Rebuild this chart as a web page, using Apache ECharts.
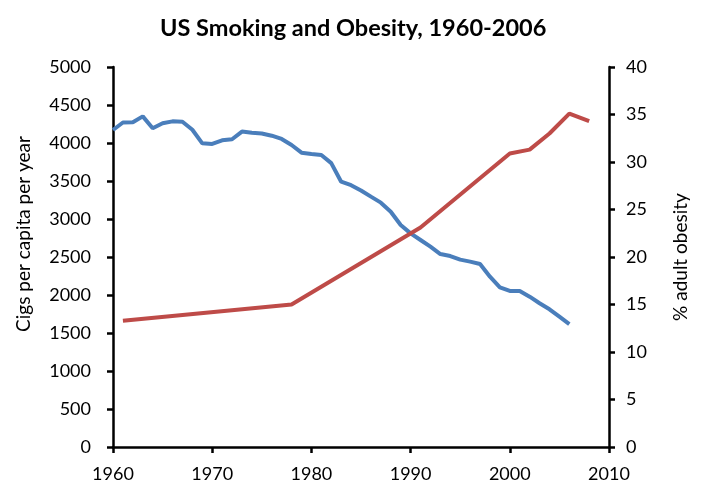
<!DOCTYPE html>
<html>
<head>
<meta charset="utf-8">
<script src="https://cdn.jsdelivr.net/npm/echarts@6/dist/echarts.min.js"></script>
<style>html,body{margin:0;padding:0;background:#fff}#c{width:704px;height:500px}</style>
</head>
<body>
<div id="c"></div>
<script>
const titleText = 'US Smoking and Obesity, 1960-2006';
const cigYears = [1960,1961,1962,1963,1964,1965,1966,1967,1968,1969,1970,1971,1972,1973,1974,1975,1976,1977,1978,1979,1980,1981,1982,1983,1984,1985,1986,1987,1988,1989,1990,1991,1992,1993,1994,1995,1996,1997,1998,1999,2000,2001,2002,2003,2004,2005,2006];
const cigValues = [4171,4270,4272,4350,4195,4259,4285,4280,4175,3996,3987,4035,4049,4150,4136,4125,4096,4053,3974,3873,3855,3842,3735,3491,3445,3375,3294,3215,3096,2921,2811,2724,2636,2539,2513,2465,2439,2408,2241,2101,2053,2053,1978,1891,1812,1715,1618];
const obYears = [1961,1978,1991,2000,2002,2004,2006,2008];
const obValues = [13.3,15.0,23.1,30.9,31.3,33.0,35.1,34.3];
const xTicks = {min:1960, max:2010, interval:10};
const leftTicks = {min:0, max:5000, interval:500};
const rightTicks = {min:0, max:40, interval:5};
const leftName = 'Cigs per capita per year';
const rightName = '% adult obesity';

const FONT = 'Lato';
const chart = echarts.init(document.getElementById('c'), null, {renderer:'canvas'});
const axisLine = {show:true, onZero:false, lineStyle:{color:'#000', width:2.5}};
const axisTick = {show:true, inside:false, length:6, lineStyle:{color:'#000', width:2.5}};
const plain = v => String(v);
chart.setOption({
  animation:false,
  backgroundColor:'#fff',
  title:{text:titleText, left:155, top:11, textStyle:{fontFamily:FONT, fontWeight:'bold', fontSize:23.5, color:'#000'}},
  grid:{left:113, right:95, top:67, bottom:53, containLabel:false},
  xAxis:{type:'value', min:xTicks.min, max:xTicks.max, interval:xTicks.interval,
    axisLine:axisLine, axisTick:axisTick, splitLine:{show:false},
    axisLabel:{fontFamily:FONT, fontSize:18, color:'#000', margin:18, formatter:plain}},
  yAxis:[
    {type:'value', position:'left', min:leftTicks.min, max:leftTicks.max, interval:leftTicks.interval,
     axisLine:axisLine, axisTick:axisTick, splitLine:{show:false},
     axisLabel:{fontFamily:FONT, fontSize:18, color:'#000', margin:22, formatter:plain},
     name:leftName, nameLocation:'middle', nameRotate:90, nameGap:80,
     nameTextStyle:{fontFamily:FONT, fontSize:19, color:'#000', padding:[0,0,0,46]}},
    {type:'value', position:'right', min:rightTicks.min, max:rightTicks.max, interval:rightTicks.interval,
     axisLine:axisLine, axisTick:axisTick, splitLine:{show:false},
     axisLabel:{fontFamily:FONT, fontSize:18, color:'#000', margin:17, formatter:plain},
     name:rightName, nameLocation:'middle', nameRotate:90, nameGap:62,
     nameTextStyle:{fontFamily:FONT, fontSize:19, color:'#000'}}
  ],
  series:[
    {type:'line', yAxisIndex:0, data:cigYears.map((y,i)=>[y,cigValues[i]]), showSymbol:false,
     lineStyle:{color:'#4A7EBB', width:4}, itemStyle:{color:'#4A7EBB'}},
    {type:'line', yAxisIndex:1, data:obYears.map((y,i)=>[y,obValues[i]]), showSymbol:false,
     lineStyle:{color:'#BE4B48', width:4}, itemStyle:{color:'#BE4B48'}}
  ]
});
</script>
</body>
</html>
